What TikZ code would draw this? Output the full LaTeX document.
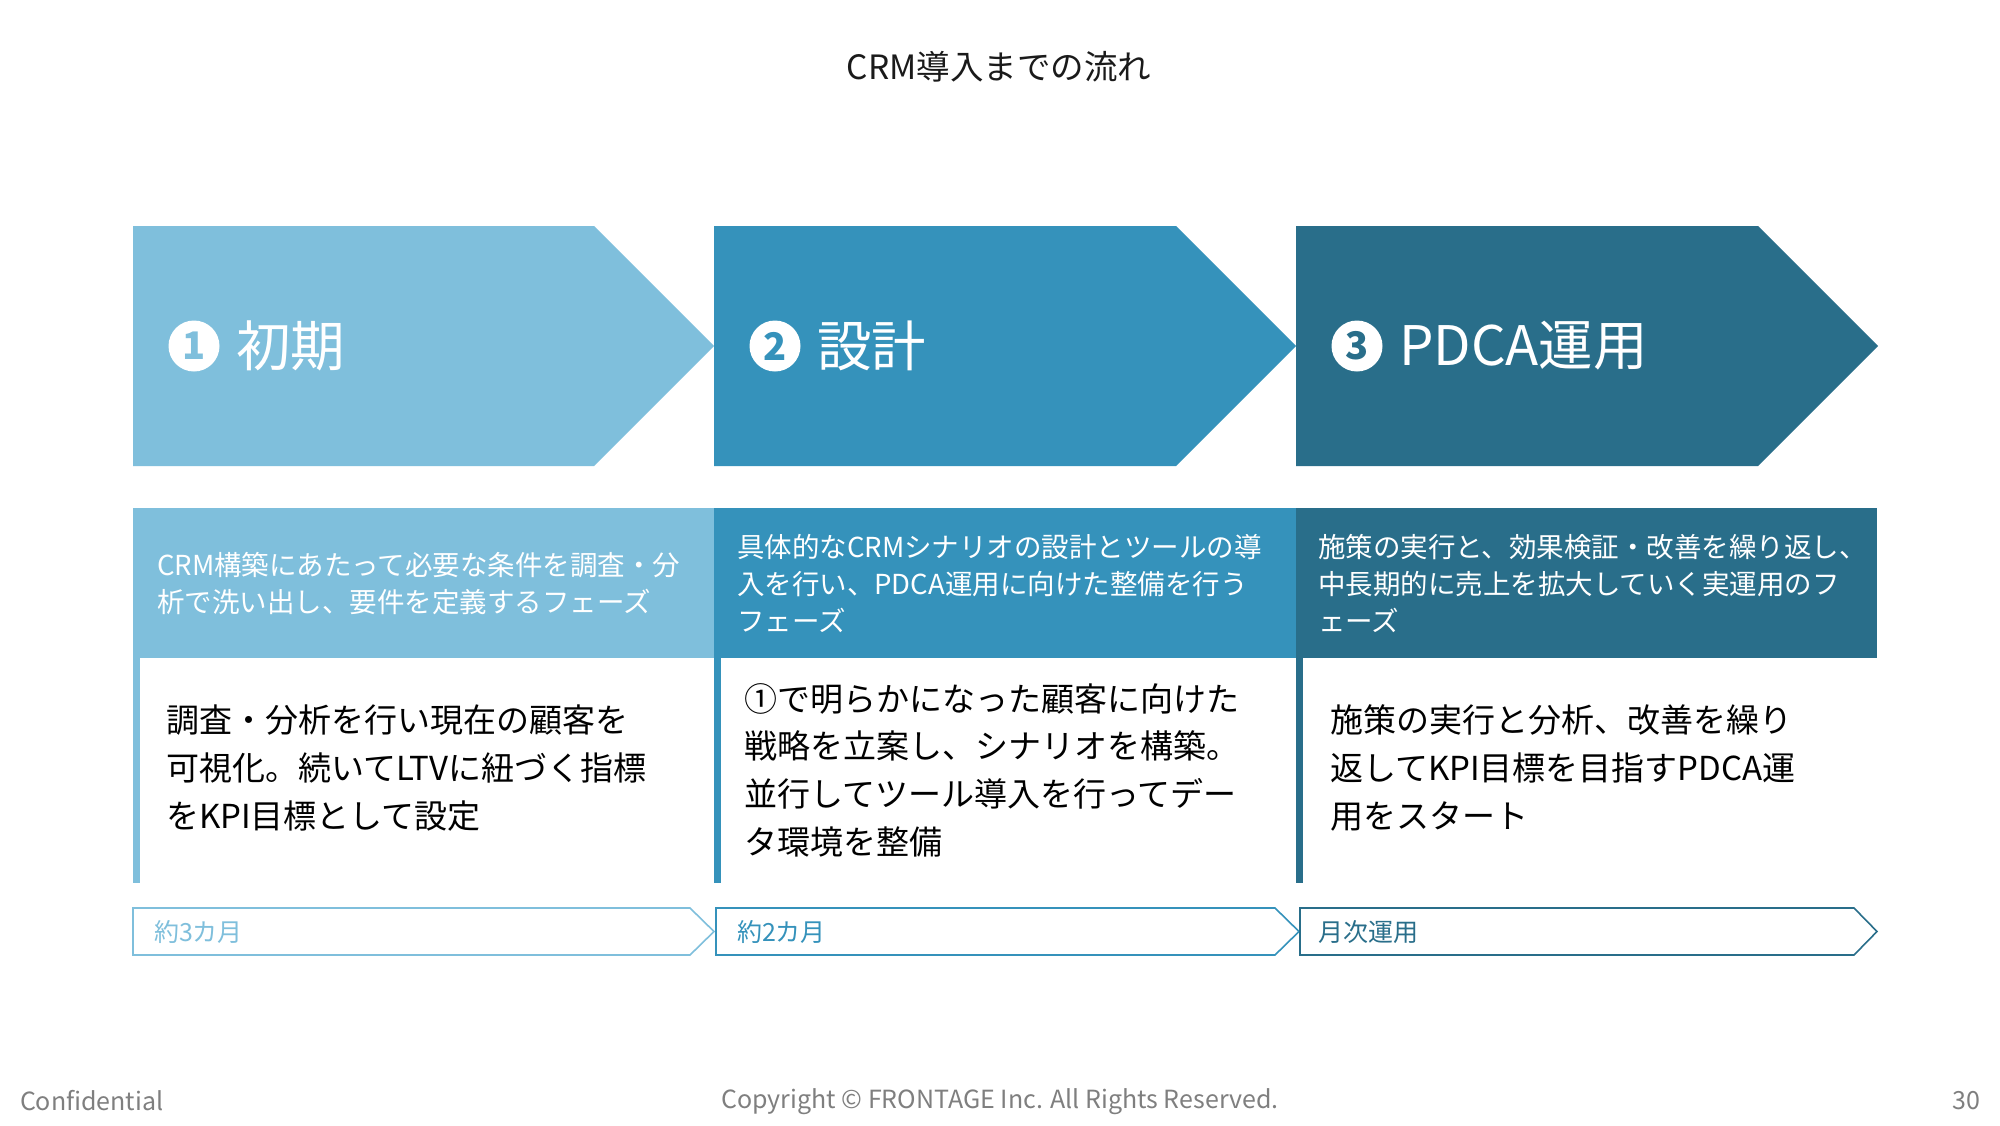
\documentclass[tikz,border=0pt]{standalone}
\usepackage{fontspec}
\setmainfont{Noto Sans CJK JP}
\definecolor{cA}{HTML}{7FBFDC}
\definecolor{cB}{HTML}{3592BB}
\definecolor{cC}{HTML}{296E8A}
\definecolor{footgray}{HTML}{7F7F7F}
\definecolor{titleblack}{HTML}{1A1A1A}
\begin{document}
\begin{tikzpicture}[x=1pt,y=-1pt,
  every node/.style={inner sep=0pt,outer sep=0pt},
  circnum/.style={circle,fill=white,minimum size=51pt,font=\fontsize{38}{38}\selectfont\bfseries},
  phtitle/.style={anchor=west,text=white,font=\fontsize{54.5}{54.5}\selectfont},
  bandtext/.style={anchor=west,text=white,align=left,font=\fontsize{27.5}{37}\selectfont},
  bodytext/.style={anchor=west,text=black,align=left,font=\fontsize{33}{47.6}\selectfont},
  durtext/.style={anchor=west,font=\fontsize{25}{25}\selectfont},
  durbox/.style={line width=1.6pt,line join=miter},
  foot/.style={text=footgray,font=\fontsize{25}{25}\selectfont}
]
\useasboundingbox (0,0) rectangle (2000,1125);
\fill[white] (0,0) rectangle (2000,1125);

% title
\node[text=titleblack,font=\fontsize{33.5}{33.5}\selectfont] (title) at (999,67) {CRM導入までの流れ};

% chevrons
\fill[cA] (133,226) -- (594,226) -- (714,346) -- (594,466) -- (133,466) -- cycle;
\fill[cB] (714,226) -- (1176,226) -- (1296,346) -- (1176,466) -- (714,466) -- cycle;
\fill[cC] (1296,226) -- (1758,226) -- (1878,346) -- (1758,466) -- (1296,466) -- cycle;

\node[circnum,text=cA] (n1) at (194,346) {1};
\node[phtitle] (t1) at (236,346) {初期};
\node[circnum,text=cB] (n2) at (775,346) {2};
\node[phtitle] (t2) at (817,346) {設計};
\node[circnum,text=cC] (n3) at (1357,346) {3};
\node[phtitle] (t3) at (1399,346) {PDCA運用};

% bands
\fill[cA] (133,508) rectangle (714,658);
\fill[cB] (714,508) rectangle (1296,658);
\fill[cC] (1296,508) rectangle (1877,658);
% left bars
\fill[cA] (133,658) rectangle (140,883);
\fill[cB] (714,658) rectangle (721,883);
\fill[cC] (1296,658) rectangle (1303,883);

\node[bandtext] (b1) at (157,584) {CRM構築にあたって必要な条件を調査・分\\析で洗い出し、要件を定義するフェーズ};
\node[bandtext] (b2) at (737,584) {具体的なCRMシナリオの設計とツールの導\\入を行い、PDCA運用に向けた整備を行う\\フェーズ};
\node[bandtext] (b3) at (1318,584) {施策の実行と、効果検証・改善を繰り返し、\\中長期的に売上を拡大していく実運用のフ\\ェーズ};

\node[bodytext] (d1) at (166,768) {調査・分析を行い現在の顧客を\\可視化。続いてLTVに紐づく指標\\をKPI目標として設定};
\node[bodytext] (d2) at (744,770) {①で明らかになった顧客に向けた\\戦略を立案し、シナリオを構築。\\並行してツール導入を行ってデー\\タ環境を整備};
\node[bodytext] (d3) at (1330,768) {施策の実行と分析、改善を繰り\\返してKPI目標を目指すPDCA運\\用をスタート};

% duration chevrons
\draw[durbox,cA] (133,908) -- (690,908) -- (714,931.5) -- (690,955) -- (133,955) -- cycle;
\draw[durbox,cB] (716,908) -- (1275,908) -- (1299,931.5) -- (1275,955) -- (716,955) -- cycle;
\draw[durbox,cC] (1300,908) -- (1854,908) -- (1877,931.5) -- (1854,955) -- (1300,955) -- cycle;
\node[durtext,text=cA] (p1) at (154,932) {約3カ月};
\node[durtext,text=cB] (p2) at (737,932) {約2カ月};
\node[durtext,text=cC] (p3) at (1318,932) {月次運用};

% footer
\node[foot,anchor=west] (conf) at (20,1101) {Confidential};
\node[foot] (copy) at (1000,1102) {Copyright © FRONTAGE Inc. All Rights Reserved.};
\node[foot,anchor=east] (page) at (1980,1101) {30};
\end{tikzpicture}
\end{document}
